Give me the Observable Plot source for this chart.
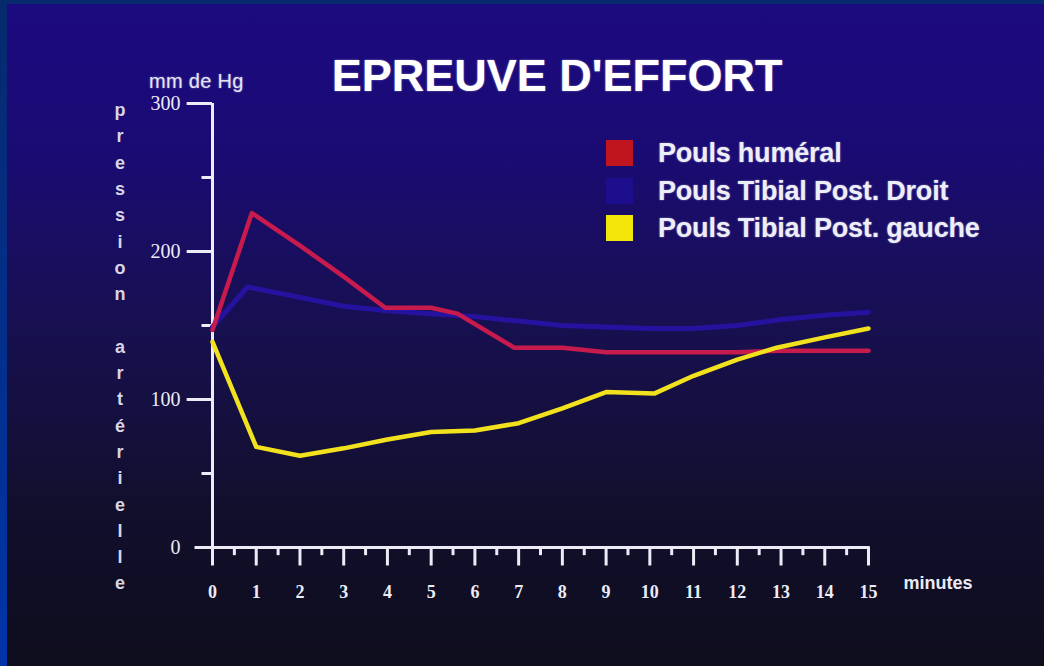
<!DOCTYPE html>
<html>
<head>
<meta charset="utf-8">
<script src="https://cdn.jsdelivr.net/npm/d3@7"></script>
<script src="https://cdn.jsdelivr.net/npm/@observablehq/plot@0.6"></script>
<style>
html, body { margin: 0; padding: 0; background: #0e0d1c; }
#wrap {
  position: relative; width: 1044px; height: 666px; overflow: hidden;
  background: linear-gradient(to bottom, #1c0a80 0%, #1a0b74 22%, #17104f 50%, #120f2e 75%, #0e0d1c 100%);
  font-family: "Liberation Sans", Arial, sans-serif; color: #f2f2fa;
}
#topbar { position: absolute; left: 0; top: 0; width: 1044px; height: 4px; background: #072a6e; }
#leftbar { position: absolute; left: 0; top: 0; width: 7px; height: 666px; background: linear-gradient(to bottom, #072a6e, #0034a8); }
#chart { position: absolute; left: 0; top: 0; }
.lbl { position: absolute; white-space: nowrap; line-height: 1; transform: translateY(-50%); text-shadow: 0 0 2px rgba(220,220,255,0.55); }
#title { left: 557px; top: 75px; transform: translate(-50%, -50%); font-size: 45px; font-weight: bold; color: #fff; }
#unit { left: 149px; top: 81px; font-size: 20px; color: #e6e6f2; letter-spacing: 0.3px; }
.leg { left: 658px; font-size: 27px; font-weight: bold; color: #eeeef8; letter-spacing: -0.2px; }
.sw { position: absolute; left: 606px; width: 27px; height: 26px; transform: translateY(-50%); }
.vl { position: absolute; left: 120px; transform: translate(-50%, -50%); font-size: 18px; font-weight: bold; color: #d6d6e6; line-height: 1; }
</style>
</head>
<body>
<div id="wrap">
  <div id="topbar"></div>
  <div id="leftbar"></div>
  <div id="chart"></div>
  <div id="title" class="lbl">EPREUVE D'EFFORT</div>
  <div id="unit" class="lbl">mm de Hg</div>
  <div id="legend"></div>
  <div id="ylabel"></div>
</div>
<script>
// ---- data ----
const seriesNames = ["Pouls huméral", "Pouls Tibial Post. Droit", "Pouls Tibial Post. gauche"];
const seriesColors = ["#c61b4c", "#2513a0", "#f2e21e"];
const swatchColors = ["#c0141e", "#1c0e8c", "#f5e60a"];

const humeralT = [0, 0.9, 2, 3, 3.95, 5, 5.6, 6.9, 8, 9, 10, 11, 12, 13, 14, 15];
const humeralV = [147, 226, 204, 183, 162, 162, 158, 135, 135, 132, 132, 132, 132, 133, 133, 133];

const droitT = [0, 0.8, 2, 3, 4, 5, 6, 7, 8, 9, 10, 11, 12, 13, 14, 15];
const droitV = [149, 176, 169, 163, 160, 158, 156, 153, 150, 149, 148, 148, 150, 154, 157, 159];

const gaucheT = [0, 1, 2, 3, 4, 5, 6, 7, 8, 9, 10.1, 11, 12, 12.9, 14, 15];
const gaucheV = [139, 68, 62, 67, 73, 78, 79, 84, 94, 105, 104, 116, 127, 135, 142, 148];

const xTickLabels = [0, 1, 2, 3, 4, 5, 6, 7, 8, 9, 10, 11, 12, 13, 14, 15];
const xMinorTicks = [0.5, 1.5, 2.5, 3.5, 4.5, 5.5, 6.5, 7.5, 8.5, 9.5, 10.5, 11.5, 12.5, 13.5, 14.5];
const yTickLabels = [0, 100, 200, 300];
const yMinorTicks = [50, 150, 250];
const yAxisLabel = "pression artérielle";
const xAxisLabel = "minutes";

// ---- build table ----
const rows = [];
[[humeralT, humeralV], [droitT, droitV], [gaucheT, gaucheV]].forEach(([T, V], k) => {
  T.forEach((t, i) => rows.push({t, v: V[i], s: seriesNames[k]}));
});
const drawOrder = [1, 0, 2];

const axisColor = "#ecebf6";
const serif = "'Liberation Serif', 'DejaVu Serif', serif";

const plot = Plot.plot({
  width: 1044,
  height: 666,
  marginLeft: 212,
  marginRight: 176,
  marginTop: 103,
  marginBottom: 119,
  x: {domain: [0, 15], axis: null},
  y: {domain: [0, 300], axis: null},
  style: {background: "transparent", overflow: "visible"},
  marks: [
    // y axis
    Plot.ruleX([0], {y1: -12.5, y2: 300, stroke: axisColor, strokeWidth: 3}),
    Plot.ruleY(yTickLabels.filter(d => d > 0), {y: d => d, x1: -0.58, x2: 0, stroke: axisColor, strokeWidth: 3}),
    Plot.ruleY(yMinorTicks, {y: d => d, x1: -0.24, x2: 0, stroke: axisColor, strokeWidth: 3}),
    Plot.text(yTickLabels, {x: 0, y: d => d, text: d => String(d), dx: -32, textAnchor: "end",
      fill: axisColor, fontSize: 20, fontFamily: serif}),
    // x axis
    Plot.ruleY([0], {x1: -0.4, x2: 15.04, stroke: axisColor, strokeWidth: 3}),
    Plot.ruleX(xTickLabels.filter(d => d > 0), {x: d => d, y1: 0, y2: -12.5, stroke: axisColor, strokeWidth: 3}),
    Plot.ruleX(xMinorTicks, {x: d => d, y1: 0, y2: -5.5, stroke: axisColor, strokeWidth: 3}),
    Plot.text(xTickLabels, {x: d => d, y: 0, text: d => String(d), dy: 45,
      fill: axisColor, fontSize: 18, fontWeight: "bold", fontFamily: serif}),
    Plot.text([xAxisLabel], {x: 15, y: 0, text: d => d, dx: 35, dy: 36, textAnchor: "start",
      fill: axisColor, fontSize: 18, fontWeight: "bold", fontFamily: "'Liberation Sans', Arial, sans-serif"}),
    // series
    ...drawOrder.map(k => Plot.line(rows.filter(r => r.s === seriesNames[k]), {
      x: "t", y: "v", stroke: seriesColors[k], strokeWidth: k === 1 ? 5 : 4.5,
      strokeLinejoin: "round", strokeLinecap: "round"
    }))
  ]
});
document.getElementById("chart").appendChild(plot);

// legend
const leg = document.getElementById("legend");
const legY = [153, 191, 228];
seriesNames.forEach((name, k) => {
  const sw = document.createElement("div");
  sw.className = "sw";
  sw.style.top = legY[k] + "px";
  sw.style.background = swatchColors[k];
  leg.appendChild(sw);
  const t = document.createElement("div");
  t.className = "lbl leg";
  t.style.top = legY[k] + "px";
  t.textContent = name;
  leg.appendChild(t);
});

// vertical stacked y label
const yl = document.getElementById("ylabel");
Array.from(yAxisLabel).forEach((ch, i) => {
  if (ch === " ") return;
  const d = document.createElement("div");
  d.className = "vl";
  d.style.top = (110 + i * 26.3) + "px";
  d.textContent = ch;
  yl.appendChild(d);
});
</script>
</body>
</html>
